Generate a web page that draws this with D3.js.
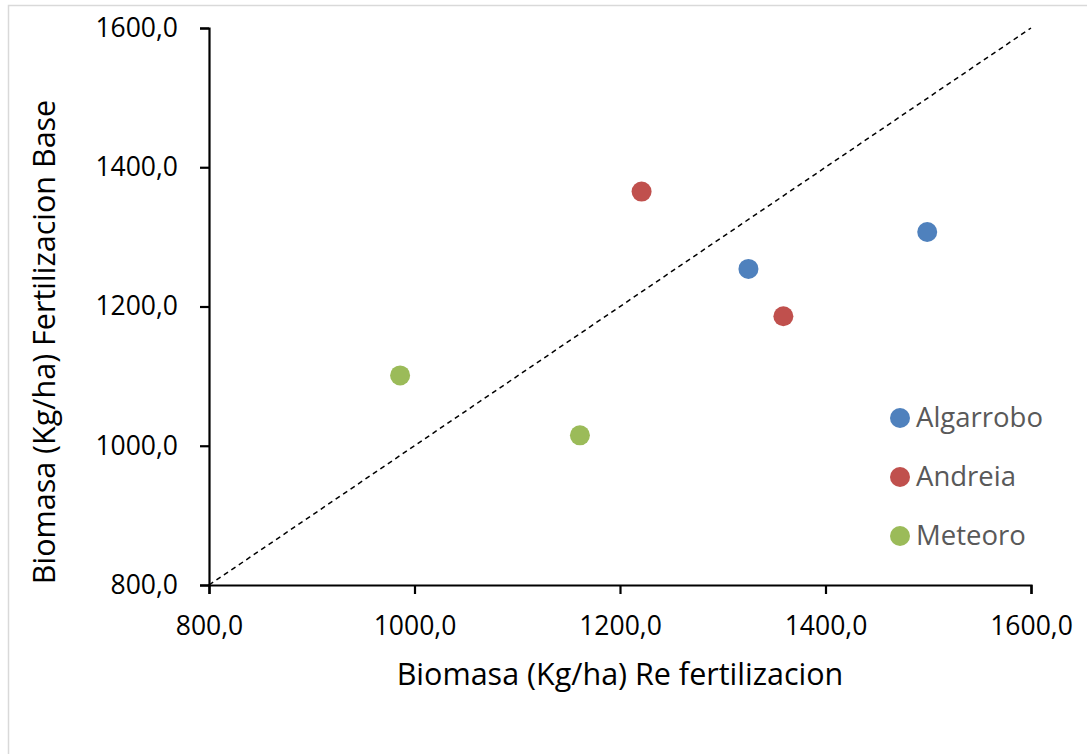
<!DOCTYPE html>
<html>
<head>
<meta charset="utf-8">
<script src="https://cdn.jsdelivr.net/npm/d3@7"></script>
<style>
  html, body { margin: 0; padding: 0; background: #fff; }
  svg { display: block; }
  text { font-family: "Open Sans", Lato, sans-serif; }
</style>
</head>
<body>
<svg id="chart" width="1087" height="754"></svg>
<script>
// ---- data ----
const seriesNames = ["Algarrobo", "Andreia", "Meteoro"];
const seriesColors = ["#4f81bd", "#c0504d", "#9bbb59"];
const algarroboX = [1325, 1499];
const algarroboY = [1254, 1307];
const andreiaX = [1221, 1359];
const andreiaY = [1365, 1186];
const meteoroX = [986, 1161];
const meteoroY = [1101, 1015];
const xTicks = [800, 1000, 1200, 1400, 1600];
const yTicks = [800, 1000, 1200, 1400, 1600];
const xTitle = "Biomasa (Kg/ha) Re fertilizacion";
const yTitle = "Biomasa (Kg/ha) Fertilizacion Base";

const seriesX = [algarroboX, andreiaX, meteoroX];
const seriesY = [algarroboY, andreiaY, meteoroY];

const svg = d3.select("#chart");

// outer chart border
svg.append("rect")
  .attr("x", 8.5).attr("y", 5.5)
  .attr("width", 1200).attr("height", 900)
  .attr("fill", "#fff").attr("stroke", "#d9d9d9").attr("stroke-width", 1.5);

const pLeft = 209, pRight = 1031, pTop = 28, pBottom = 585;
const x = d3.scaleLinear().domain([800, 1600]).range([pLeft, pRight]);
const y = d3.scaleLinear().domain([800, 1600]).range([pBottom, pTop]);

const fmt = d => d3.format(".1f")(d).replace(".", ",");

// 1:1 line
svg.append("line")
  .attr("x1", x(800)).attr("y1", y(800))
  .attr("x2", x(1600)).attr("y2", y(1600))
  .attr("stroke", "#000").attr("stroke-width", 1.5)
  .attr("stroke-dasharray", "5,4");

// axes
const xAxis = svg.append("g")
  .attr("transform", `translate(0,${pBottom})`)
  .call(d3.axisBottom(x).tickValues(xTicks).tickFormat(fmt).tickSize(9).tickSizeOuter(9).tickPadding(8));
const yAxis = svg.append("g")
  .attr("transform", `translate(${pLeft},0)`)
  .call(d3.axisLeft(y).tickValues(yTicks).tickFormat(fmt).tickSize(9).tickSizeOuter(9).tickPadding(22));

[xAxis, yAxis].forEach(g => {
  g.select(".domain").attr("stroke", "#000").attr("stroke-width", 2.2);
  g.selectAll(".tick line").attr("stroke", "#000").attr("stroke-width", 2.2);
  g.selectAll(".tick text").attr("fill", "#000").style("font-size", "26.5px")
    .style("font-family", "'Open Sans', sans-serif");
});
yAxis.selectAll(".tick text").attr("dy", "0.32em");
xAxis.selectAll(".tick text").attr("y", 50).attr("dy", 0);

// points
seriesNames.forEach((name, i) => {
  svg.append("g").selectAll("circle")
    .data(seriesX[i].map((v, j) => [v, seriesY[i][j]]))
    .join("circle")
    .attr("cx", d => x(d[0])).attr("cy", d => y(d[1]))
    .attr("r", 10)
    .attr("fill", seriesColors[i]);
});

// axis titles
svg.append("text")
  .attr("x", (pLeft + pRight) / 2).attr("y", 685)
  .attr("text-anchor", "middle")
  .attr("fill", "#000")
  .style("font-size", "30.5px")
  .text(xTitle);

svg.append("text")
  .attr("transform", `translate(55,342) rotate(-90)`)
  .attr("text-anchor", "middle")
  .attr("fill", "#000")
  .style("font-size", "30.5px")
  .text(yTitle);

// legend
const legendY = [418, 477, 536];
const legend = svg.append("g");
seriesNames.forEach((name, i) => {
  legend.append("circle")
    .attr("cx", 900).attr("cy", legendY[i]).attr("r", 10)
    .attr("fill", seriesColors[i]);
  legend.append("text")
    .attr("x", 916).attr("y", legendY[i]).attr("dy", "0.34em")
    .attr("fill", "#595959")
    .style("font-size", "27.5px")
    .text(name);
});
</script>
</body>
</html>
